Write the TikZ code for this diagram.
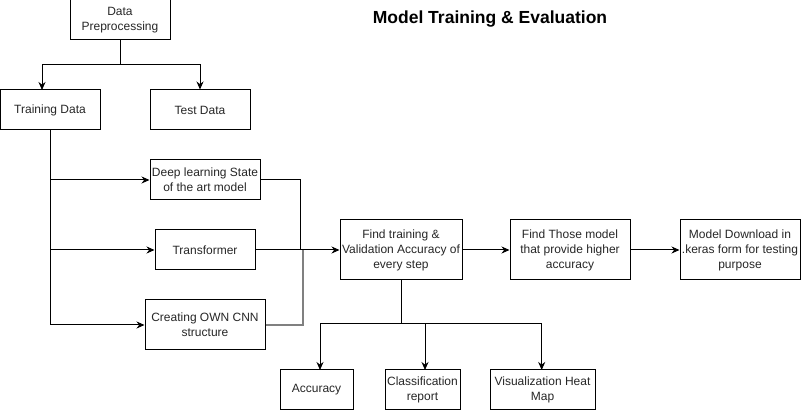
\documentclass[tikz,border=0pt]{standalone}
\usepackage{fontspec}
\setmainfont{Liberation Sans}
\usetikzlibrary{arrows.meta}
\begin{document}
\begin{tikzpicture}[x=1pt,y=-1pt,
  box/.style={draw=black,line width=1pt,align=center,inner sep=1pt,text=black!85,
    font=\fontsize{12}{15}\selectfont},
  conn/.style={line width=1pt,-{Stealth[length=8pt,width=7pt]}},
  line/.style={line width=1pt}]
\useasboundingbox (0,0) rectangle (801,411);
\node[box,minimum width=100pt,minimum height=40pt] (dp) at (120,20) {Data\\Preprocessing};
\node[box,minimum width=100pt,minimum height=40pt] (train) at (50,110) {Training Data};
\node[box,minimum width=100pt,minimum height=40pt] (test) at (200,110) {Test Data};
\node[box,minimum width=110pt,minimum height=40pt] (dl) at (205,180) {Deep learning State\\of the art model};
\node[box,minimum width=100pt,minimum height=40pt] (tf) at (205,250) {Transformer};
\node[box,minimum width=120pt,minimum height=50pt] (cnn) at (205,325) {Creating OWN CNN\\structure};
\node[box,minimum width=122pt,minimum height=60pt] (find) at (401,250) {Find training \&\\Validation Accuracy of\\every step};
\node[box,minimum width=120pt,minimum height=60pt] (those) at (570,250) {Find Those model\\that provide higher\\accuracy};
\node[box,minimum width=120pt,minimum height=60pt] (down) at (740,250) {Model Download in\\.keras form for testing\\purpose};
\node[box,minimum width=73pt,minimum height=40pt] (acc) at (316.5,390) {Accuracy};
\node[box,minimum width=75pt,minimum height=40pt] (cls) at (422.5,390) {Classification\\report};
\node[box,minimum width=105pt,minimum height=40pt] (vis) at (542.5,390) {Visualization Heat\\Map};
\node[font=\fontsize{17.5}{20}\selectfont\bfseries,text=black] (title) at (490,19) {Model Training \& Evaluation};

\coordinate (s1) at (120,65);
\draw[conn] (dp.south) -- (s1) -| (42,90);
\draw[conn] (s1) -| (test.north);
\coordinate (t0) at (50,325);
\draw[line] (train.south) -- (t0);
\draw[conn] (t0) -- (cnn.west);
\draw[conn] (50,180) -- (dl.west);
\draw[conn] (50,250) -- (tf.west);
\draw[line] (dl.east) -| (300,250);
\draw[conn] (tf.east) -- (find.west);
\draw[line,draw=black!50,line width=1.3pt] (cnn.east) -| (303,250);
\draw[conn] (find.east) -- (those.west);
\draw[conn] (those.east) -- (down.west);
\coordinate (b0) at (401,324);
\draw[line] (find.south) -- (b0);
\draw[line] (320,324) -- (541.7,324);
\draw[conn] (320,324) -- (320,370);
\draw[conn] (425,324) -- (425,370);
\draw[conn] (541.7,324) -- (541.7,370);
\end{tikzpicture}
\end{document}
